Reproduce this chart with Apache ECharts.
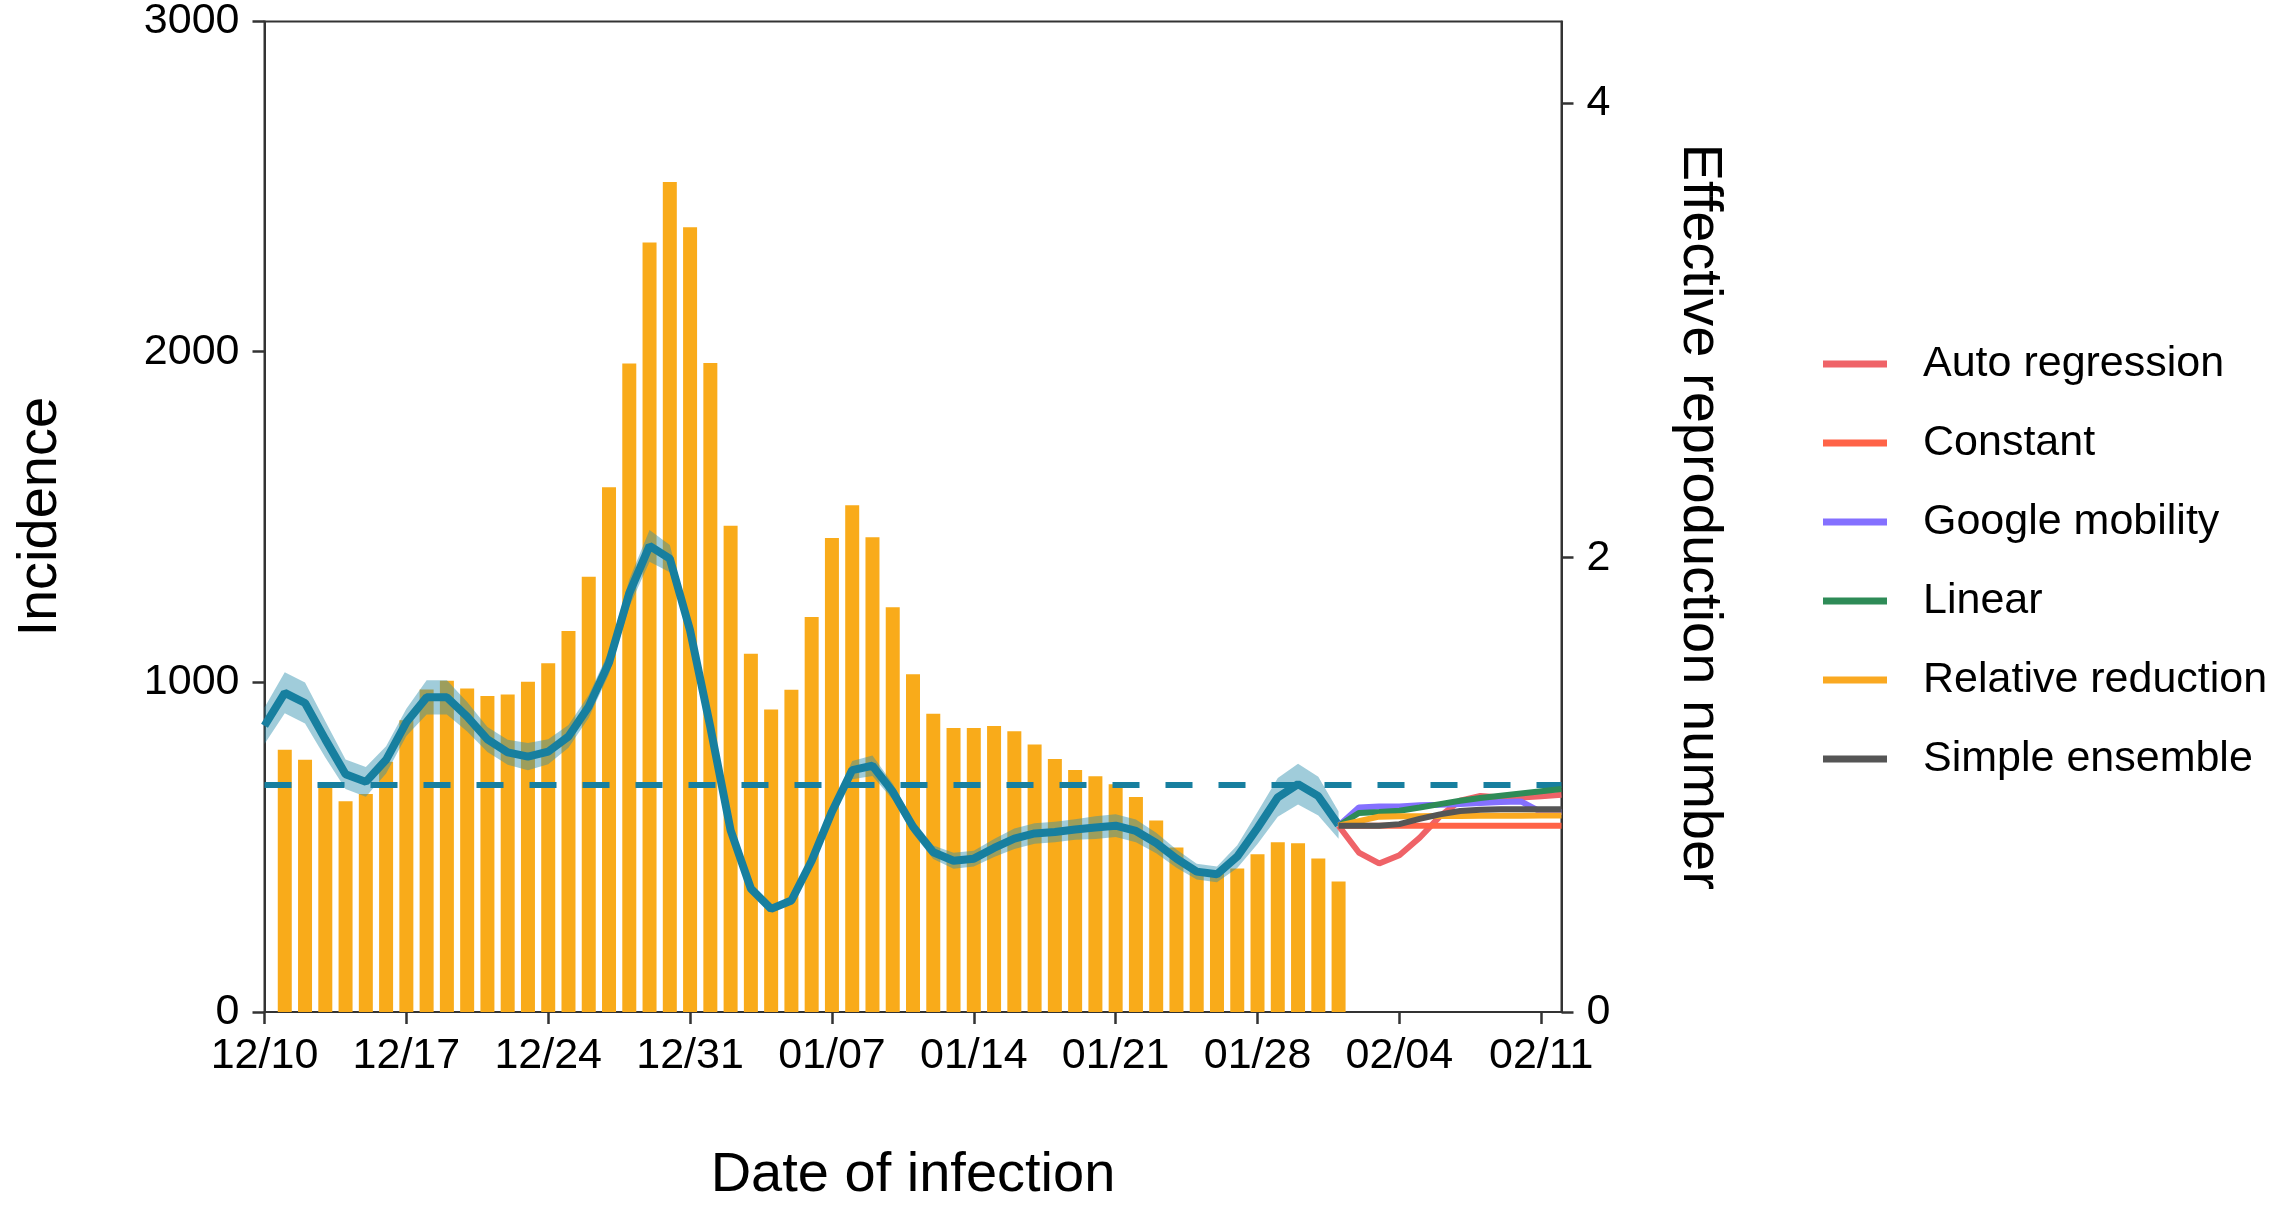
<!DOCTYPE html>
<html>
<head>
<meta charset="utf-8">
<script src="https://cdn.jsdelivr.net/npm/echarts@6/dist/echarts.min.js"></script>
<style>html,body{margin:0;padding:0;background:#fff;}#c{width:2295px;height:1209px;}</style>
</head>
<body>
<div id="c"></div>
<script>
// ---- data ----
// dates from 12/10 to 02/12 (65 days)
const categories = ["12/10","12/11","12/12","12/13","12/14","12/15","12/16","12/17","12/18","12/19","12/20","12/21","12/22","12/23","12/24","12/25","12/26","12/27","12/28","12/29","12/30","12/31",
"01/01","01/02","01/03","01/04","01/05","01/06","01/07","01/08","01/09","01/10","01/11","01/12","01/13","01/14","01/15","01/16","01/17","01/18","01/19","01/20","01/21","01/22","01/23","01/24","01/25","01/26","01/27","01/28","01/29","01/30","01/31",
"02/01","02/02","02/03","02/04","02/05","02/06","02/07","02/08","02/09","02/10","02/11","02/12"];
const xTickLabels = ["12/10","12/17","12/24","12/31","01/07","01/14","01/21","01/28","02/04","02/11"];

// daily incidence, 12/11 .. 02/01
const incidence = [794,764,680,638,660,758,884,977,1003,980,957,962,1000,1056,1154,1318,1589,1964,2331,2514,2377,
1966,1473,1085,916,976,1196,1436,1535,1438,1226,1023,903,860,860,866,850,810,766,733,714,690,651,580,498,430,420,435,478,514,511,465,395];

// effective reproduction number, 12/10 .. 02/02
const rMean = [1.26,1.405,1.36,1.20,1.047,1.013,1.11,1.275,1.385,1.385,1.30,1.20,1.143,1.124,1.146,1.213,1.345,1.538,1.844,2.052,1.996,1.68,
1.254,0.80,0.543,0.454,0.491,0.666,0.882,1.065,1.084,0.97,0.815,0.703,0.666,0.675,0.722,0.763,0.786,0.792,0.803,0.812,0.82,0.797,0.744,0.675,0.618,0.606,0.684,0.81,0.945,1.003,0.95,0.823];
const rLower = [1.18,1.315,1.27,1.12,0.982,0.948,1.05,1.215,1.31,1.31,1.235,1.145,1.088,1.064,1.091,1.163,1.295,1.488,1.784,1.982,1.936,1.64,
1.224,0.78,0.528,0.442,0.476,0.646,0.857,1.025,1.039,0.935,0.785,0.673,0.631,0.64,0.682,0.718,0.741,0.747,0.758,0.762,0.77,0.747,0.699,0.635,0.583,0.571,0.634,0.74,0.86,0.913,0.865,0.763];
const rUpper = [1.34,1.495,1.45,1.28,1.112,1.078,1.17,1.335,1.46,1.46,1.365,1.255,1.198,1.184,1.201,1.263,1.395,1.588,1.904,2.122,2.056,1.72,
1.284,0.82,0.558,0.466,0.506,0.686,0.907,1.105,1.129,1.005,0.845,0.733,0.701,0.71,0.762,0.808,0.831,0.837,0.848,0.862,0.87,0.847,0.789,0.715,0.653,0.641,0.734,0.88,1.03,1.093,1.035,0.883];

// projections, 02/02 .. 02/12
const forecastStart = 53;
const fcAutoRegression   = [0.82,0.702,0.654,0.69,0.767,0.861,0.93,0.951,0.944,0.944,0.95,0.956];
const fcConstant         = [0.82,0.82,0.82,0.82,0.82,0.82,0.82,0.82,0.82,0.82,0.82,0.82];
const fcGoogleMobility   = [0.82,0.90,0.905,0.905,0.91,0.912,0.916,0.92,0.924,0.927,0.88,0.88];
const fcLinear           = [0.82,0.876,0.88,0.886,0.90,0.915,0.93,0.942,0.952,0.962,0.972,0.982];
const fcRelativeReduction= [0.82,0.84,0.86,0.862,0.862,0.863,0.863,0.864,0.864,0.864,0.865,0.865];
const fcSimpleEnsemble   = [0.82,0.82,0.82,0.827,0.85,0.87,0.885,0.89,0.893,0.893,0.893,0.893];

const rThreshold = 1;
const leftTicks = [0,1000,2000,3000];
const rightTicks = [0,2,4];

// ---- build ----
const FONT = 'Liberation Sans, Arial, sans-serif';
const barData = [null].concat(incidence);
const bandData = rUpper.map((u,i)=>+(u - rLower[i]).toFixed(4));
function pad(arr){ const out = new Array(forecastStart).fill(null); return out.concat(arr); }
const showX = (idx)=> xTickLabels.indexOf(categories[idx]) >= 0;

const fcDefs = [
  ['Auto regression', fcAutoRegression, '#EF6368'],
  ['Constant', fcConstant, '#FF6347'],
  ['Google mobility', fcGoogleMobility, '#8470FF'],
  ['Linear', fcLinear, '#2E8B57'],
  ['Relative reduction', fcRelativeReduction, '#FAA921'],
  ['Simple ensemble', fcSimpleEnsemble, '#555555']
];

const axisColor = '#333333';
const series = [
  { name:'Incidence', type:'bar', data:barData, barWidth:14, itemStyle:{color:'#F9AB1A'}, z:2, silent:true },
  { name:'rLower', type:'line', yAxisIndex:1, stack:'ci', data:rLower, symbol:'none', lineStyle:{opacity:0}, z:3, silent:true },
  { name:'rBand', type:'line', yAxisIndex:1, stack:'ci', data:bandData, symbol:'none', lineStyle:{opacity:0},
    areaStyle:{color:'rgba(44,142,173,0.45)', opacity:1}, z:3, silent:true },
  { name:'R', type:'line', yAxisIndex:1, data:rMean, symbol:'none', lineStyle:{color:'#177F9F', width:8}, z:4, silent:true,
    markLine:{ silent:true, symbol:'none', label:{show:false},
      lineStyle:{color:'#177F9F', width:6, type:[27,26]}, data:[{yAxis:rThreshold}] } }
];
fcDefs.forEach(([n,arr,c])=>{
  series.push({ name:n, type:'line', yAxisIndex:1, data:pad(arr), symbol:'none', showSymbol:false,
    itemStyle:{color:c}, lineStyle:{color:c, width:6}, z:6, silent:true });
});

const chart = echarts.init(document.getElementById('c'));
chart.setOption({
  animation:false,
  backgroundColor:'#ffffff',
  textStyle:{fontFamily:FONT},
  grid:{ left:264.5, right:733.5, top:19.5, bottom:189.5, show:true, borderColor:axisColor, borderWidth:2, backgroundColor:'transparent' },
  legend:{
    data:fcDefs.map(d=>d[0]),
    orient:'vertical', left:1818, top:334,
    icon:'rect', itemWidth:64, itemHeight:7, itemGap:29,
    textStyle:{fontSize:43, fontFamily:FONT, color:'#000', lineHeight:50, padding:[0,0,0,31]},
    selectedMode:false
  },
  xAxis:{
    type:'category', data:categories, boundaryGap:false,
    name:'Date of infection', nameLocation:'middle', nameGap:136,
    nameTextStyle:{fontSize:56, color:'#000', fontFamily:FONT},
    axisLine:{show:true, lineStyle:{color:axisColor, width:2}},
    axisTick:{show:true, interval:showX, length:12, lineStyle:{color:axisColor, width:2.5}},
    axisLabel:{interval:showX, fontSize:43, color:'#000', margin:23, fontFamily:FONT},
    splitLine:{show:false}
  },
  yAxis:[
    { type:'value', min:0, max:3000, interval:1000, position:'left',
      name:'Incidence', nameLocation:'middle', nameGap:196, nameRotate:90,
      nameTextStyle:{fontSize:56, color:'#000', fontFamily:FONT},
      axisLine:{show:true, lineStyle:{color:axisColor, width:2}},
      axisTick:{show:true, length:12, lineStyle:{color:axisColor, width:2.5}},
      axisLabel:{fontSize:43, color:'#000', margin:25, fontFamily:FONT, formatter:v=>String(v)},
      splitLine:{show:false} },
    { type:'value', min:0, max:4.36, interval:2, position:'right',
      name:'Effective reproduction number', nameLocation:'middle', nameGap:110, nameRotate:-90,
      nameTextStyle:{fontSize:56, color:'#000', fontFamily:FONT},
      axisLine:{show:true, lineStyle:{color:axisColor, width:2}},
      axisTick:{show:true, length:12, customValues:rightTicks, lineStyle:{color:axisColor, width:2.5}},
      axisLabel:{fontSize:43, color:'#000', margin:25, fontFamily:FONT, customValues:rightTicks,
        formatter:v=> rightTicks.indexOf(v) >= 0 ? String(v) : ''},
      splitLine:{show:false} }
  ],
  series:series
});
</script>
</body>
</html>
